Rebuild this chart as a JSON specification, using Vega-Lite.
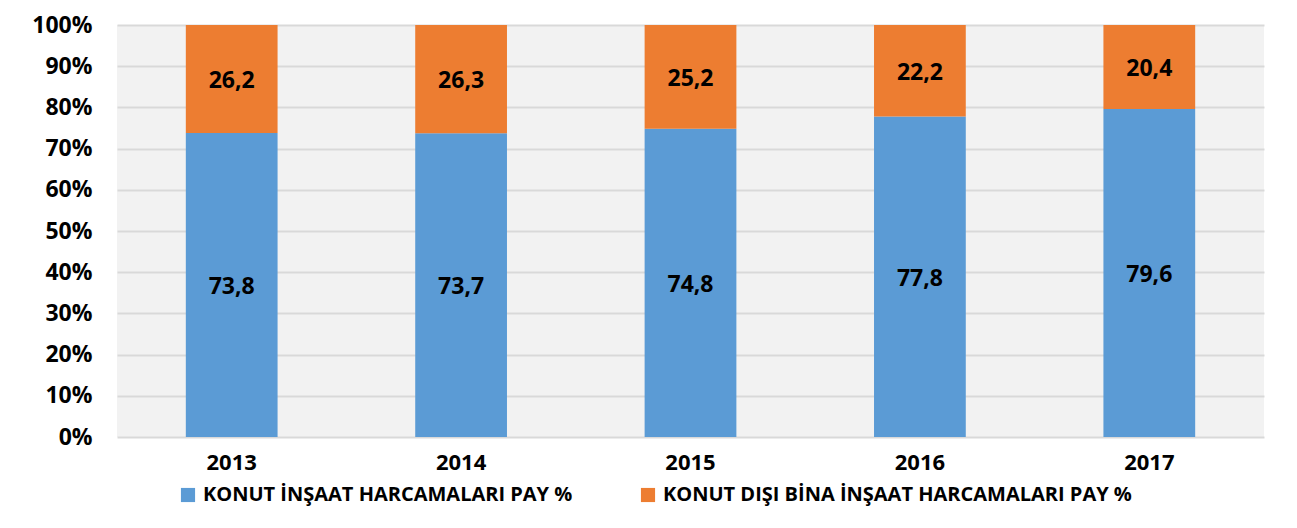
{
  "$schema": "https://vega.github.io/schema/vega-lite/v6.json",
  "width": 1147,
  "height": 412,
  "autosize": {"type": "none"},
  "padding": {"left": 117, "top": 25, "right": 33, "bottom": 91},
  "background": "white",
  "config": {
    "locale": {"number": {"decimal": ",", "thousands": ".", "grouping": [3], "currency": ["", " TL"]}},
    "font": "Open Sans",
    "view": {"fill": "#F2F2F2", "stroke": null}
  },
  "data": {
    "values": [
      {"year": "2013", "series": "KONUT İNŞAAT HARCAMALARI PAY %", "value": 73.8},
      {"year": "2013", "series": "KONUT DIŞI BİNA İNŞAAT HARCAMALARI PAY %", "value": 26.2},
      {"year": "2014", "series": "KONUT İNŞAAT HARCAMALARI PAY %", "value": 73.7},
      {"year": "2014", "series": "KONUT DIŞI BİNA İNŞAAT HARCAMALARI PAY %", "value": 26.3},
      {"year": "2015", "series": "KONUT İNŞAAT HARCAMALARI PAY %", "value": 74.8},
      {"year": "2015", "series": "KONUT DIŞI BİNA İNŞAAT HARCAMALARI PAY %", "value": 25.2},
      {"year": "2016", "series": "KONUT İNŞAAT HARCAMALARI PAY %", "value": 77.8},
      {"year": "2016", "series": "KONUT DIŞI BİNA İNŞAAT HARCAMALARI PAY %", "value": 22.2},
      {"year": "2017", "series": "KONUT İNŞAAT HARCAMALARI PAY %", "value": 79.6},
      {"year": "2017", "series": "KONUT DIŞI BİNA İNŞAAT HARCAMALARI PAY %", "value": 20.4}
    ]
  },
  "encoding": {
    "x": {
      "field": "year", "type": "ordinal", "title": null,
      "scale": {"paddingInner": 0.6, "paddingOuter": 0.3},
      "axis": {"labelAngle": 0, "labelFont": "Open Sans", "labelFontWeight": "bold", "labelFontSize": 22, "labelColor": "#000000", "domain": false, "ticks": false, "labelPadding": 15}
    }
  },
  "layer": [
    {
      "mark": {"type": "bar"},
      "encoding": {
        "y": {
          "field": "value", "type": "quantitative", "stack": "normalize", "title": null,
          "scale": {"domain": [0, 1], "nice": false},
          "axis": {"format": ".0%", "values": [0,0.1,0.2,0.3,0.4,0.5,0.6,0.7,0.8,0.9,1], "labelOverlap": false, "labelFont": "Open Sans", "labelFontWeight": "bold", "labelFontSize": 23, "labelColor": "#000000", "domain": false, "ticks": false, "labelPadding": 25, "grid": true, "gridColor": "#D9D9D9", "gridWidth": 2}
        },
        "color": {
          "field": "series", "type": "nominal", "title": null,
          "scale": {"domain": ["KONUT İNŞAAT HARCAMALARI PAY %", "KONUT DIŞI BİNA İNŞAAT HARCAMALARI PAY %"], "range": ["#5B9BD5", "#ED7D31"]},
          "legend": {"orient": "none", "legendX": 61, "legendY": 460, "direction": "horizontal", "symbolType": "square", "symbolSize": 200, "symbolStrokeWidth": 0, "labelFont": "Open Sans", "labelFontWeight": "bold", "labelFontSize": 20, "labelColor": "#000000", "labelLimit": 800, "columnPadding": 65, "labelOffset": 5}
        },
        "order": {"field": "series", "sort": "descending"}
      }
    },
    {
      "transform": [
        {"stack": "value", "groupby": ["year"], "sort": [{"field": "series", "order": "descending"}], "offset": "normalize", "as": ["v0", "v1"]},
        {"fold": ["v0", "v1"], "as": ["k", "pos"]},
        {"aggregate": [{"op": "mean", "field": "pos", "as": "mid"}], "groupby": ["year", "series", "value"]}
      ],
      "mark": {"type": "text", "font": "Open Sans", "fontWeight": "bold", "fontSize": 23, "color": "#000000", "baseline": "middle", "dy": 2},
      "encoding": {
        "y": {"field": "mid", "type": "quantitative"},
        "text": {"field": "value", "type": "quantitative", "format": ".1f"}
      }
    }
  ]
}
